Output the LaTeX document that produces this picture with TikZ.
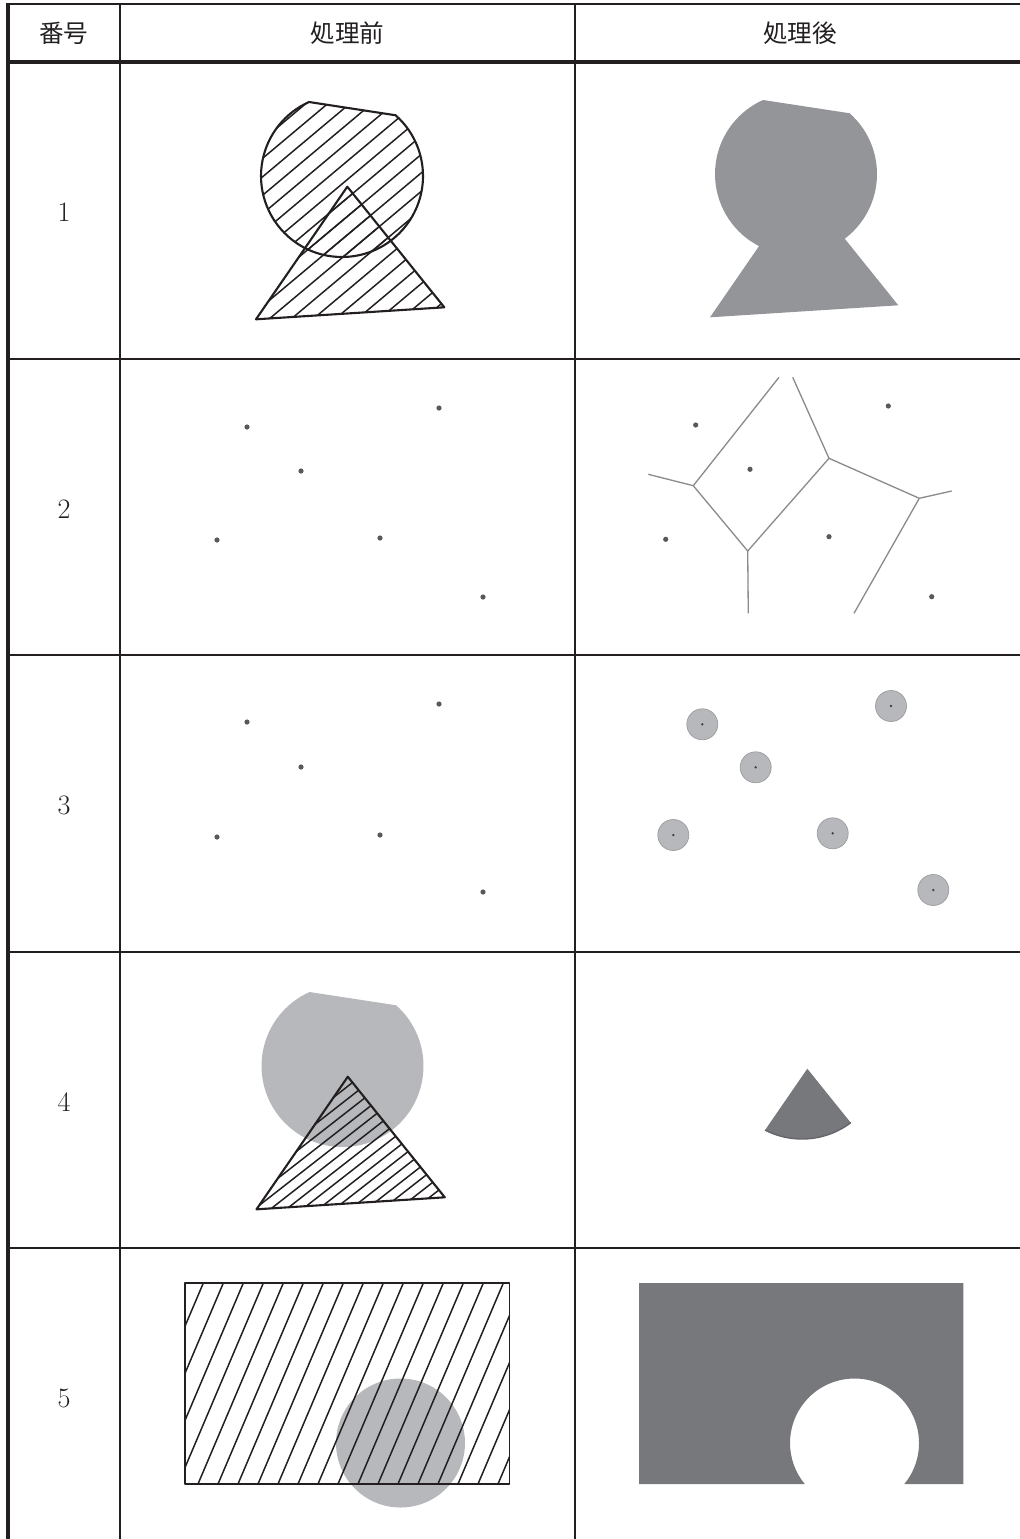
\documentclass[tikz,border=0pt]{standalone}
\usepackage{fontspec}
\newfontfamily\jpfont{Noto Sans CJK JP}
\usepackage{tikz}
\usetikzlibrary{calc}

\definecolor{tableline}{RGB}{35,31,32}
\definecolor{midfill}{RGB}{148,149,153}
\definecolor{lightfill}{RGB}{183,184,187}
\definecolor{darkfill}{RGB}{119,120,124}
\definecolor{dotgray}{RGB}{88,89,91}
\definecolor{edgegray}{RGB}{138,139,142}

% shapes of row 1, reused in rows 1 and 4
\newcommand{\cutcirclepath}{(342,176) ++(-48.6:81) arc[start angle=-48.6, end angle=246, radius=81] -- cycle}
\newcommand{\trianglepath}{(347.3,186.7) -- (256,319.3) -- (444.3,307.3) -- cycle}

\begin{document}
\begin{tikzpicture}[
    x=0.02cm, y=-0.02cm,
    headtext/.style={font=\jpfont\fontsize{14}{16}\selectfont, text=tableline},
    rownum/.style={font=\fontsize{16}{18}\selectfont, text=tableline},
    thinrule/.style={draw=tableline, line width=1pt},
    thickrule/.style={draw=tableline, line width=2.2pt},
    shapeline/.style={draw=tableline, line width=1.2pt, line join=round},
    hatchline/.style={draw=tableline, line width=0.85pt},
    ptdot/.style={fill=dotgray},
    edgeline/.style={draw=edgegray, line width=0.75pt},
    bufferdisc/.style={fill=lightfill, draw=lightfill!85!black, line width=0.4pt},
    ptcore/.style={fill=black!75}
]
    \useasboundingbox (0,0) rectangle (1020,1539);

    % Table frame
    \draw[thickrule, line width=1.7pt] (8,4) -- (1020,4);
    \draw[thickrule] (8,62) -- (1020,62);
    \draw[thickrule] (8,2.5) -- (8,1539);
    \draw[thinrule] (120,4) -- (120,1539);
    \draw[thinrule] (575,4) -- (575,1539);
    \foreach \y in {359,655,952,1248}
        \draw[thinrule] (8,\y) -- (1020,\y);

    % Header
    \node[headtext] (h_no) at (64,33) {番号};
    \node[headtext] (h_before) at (347.5,33) {処理前};
    \node[headtext] (h_after) at (800,33) {処理後};

    % Row numbers
    \node[rownum] (n1) at (64,212.5) {1};
    \node[rownum] (n2) at (64,509) {2};
    \node[rownum] (n3) at (64,805.5) {3};
    \node[rownum] (n4) at (64,1102) {4};
    \node[rownum] (n5) at (64,1398.5) {5};

    % Row 1: before (hatched union)
    \begin{scope}
        \clip \cutcirclepath;
        \foreach \x in {-30,-8,...,450}
            \draw[hatchline] (\x,330) -- ++(320,-268.5);
    \end{scope}
    \begin{scope}
        \clip \trianglepath;
        \foreach \x in {-30,-8,...,450}
            \draw[hatchline] (\x,330) -- ++(320,-268.5);
    \end{scope}
    \draw[shapeline] \cutcirclepath;
    \draw[shapeline] \trianglepath;

    % Row 1: after (dissolved)
    \begin{scope}[shift={(454,-2)}]
        \fill[midfill] \cutcirclepath;
        \fill[midfill] \trianglepath;
    \end{scope}

    % Row 2: before (points)
    \foreach \x/\y in {247/427, 439/408, 301/471, 217/540, 380/538, 483/597}
        \fill[ptdot] (\x,\y) circle[radius=2.6];

    % Row 2: after (Voronoi cells)
    \coordinate (v1) at (693.3,485.7);
    \coordinate (v2) at (747.7,551);
    \coordinate (v3) at (829,458.3);
    \coordinate (v4) at (919.3,498.3);
    \coordinate (e1) at (648.3,474.3);
    \coordinate (e2) at (779,377.3);
    \coordinate (e3) at (748.3,613.3);
    \coordinate (e4) at (792.7,377.3);
    \coordinate (e5) at (951.7,491);
    \coordinate (e6) at (854,613.3);
    \draw[edgeline] (e1) -- (v1) -- (e2);
    \draw[edgeline] (v1) -- (v2) -- (e3);
    \draw[edgeline] (v2) -- (v3) -- (e4);
    \draw[edgeline] (v3) -- (v4) -- (e5);
    \draw[edgeline] (v4) -- (e6);
    \foreach \x/\y in {695.7/425, 888.3/406, 750/469.3, 665.7/539.3, 829/536.7, 931.7/596.7}
        \fill[ptdot] (\x,\y) circle[radius=2.6];

    % Row 3: before (points)
    \foreach \x/\y in {247/722, 439/704, 301/767, 217/837, 380/835, 483/892}
        \fill[ptdot] (\x,\y) circle[radius=2.6];

    % Row 3: after (buffers)
    \foreach \x/\y in {702.3/724.3, 891/706, 755.7/767.3, 673.3/835, 832.7/833.3, 933.3/890} {
        \filldraw[bufferdisc] (\x,\y) circle[radius=15.5];
        \fill[ptcore] (\x,\y) circle[radius=1.3];
    }

    % Row 4: before (gray circle, hatched triangle)
    \begin{scope}[shift={(0.5,890)}]
        \fill[lightfill] \cutcirclepath;
        \begin{scope}
            \clip \trianglepath;
            \foreach \x in {160,176,...,432}
                \draw[hatchline] (\x,330) -- ++(300,-234.3);
        \end{scope}
        \draw[shapeline] \trianglepath;
    \end{scope}

    % Row 4: after (intersection)
    \begin{scope}[shift={(460,882)}]
        \clip \trianglepath;
        \filldraw[darkfill, draw=darkfill!85!black, line width=0.8pt] \cutcirclepath;
    \end{scope}

    % Row 5: before (hatched rectangle, gray circle)
    \fill[lightfill] (400.5,1443) circle[radius=64.5];
    \begin{scope}
        \clip (185,1283) rectangle (509.3,1484);
        \foreach \x in {98,118,...,518}
            \draw[hatchline] (\x,1484) -- ++(90,-212);
    \end{scope}
    \draw[shapeline, line width=0.9pt] (185,1283) rectangle (509.3,1484);

    % Row 5: after (difference)
    \fill[darkfill] (639,1283) -- (963.3,1283) -- (963.3,1484) -- (904.3,1484)
        arc[start angle=39.47, end angle=-219.47, radius=64.5] -- (639,1484) -- cycle;

\end{tikzpicture}
\end{document}
